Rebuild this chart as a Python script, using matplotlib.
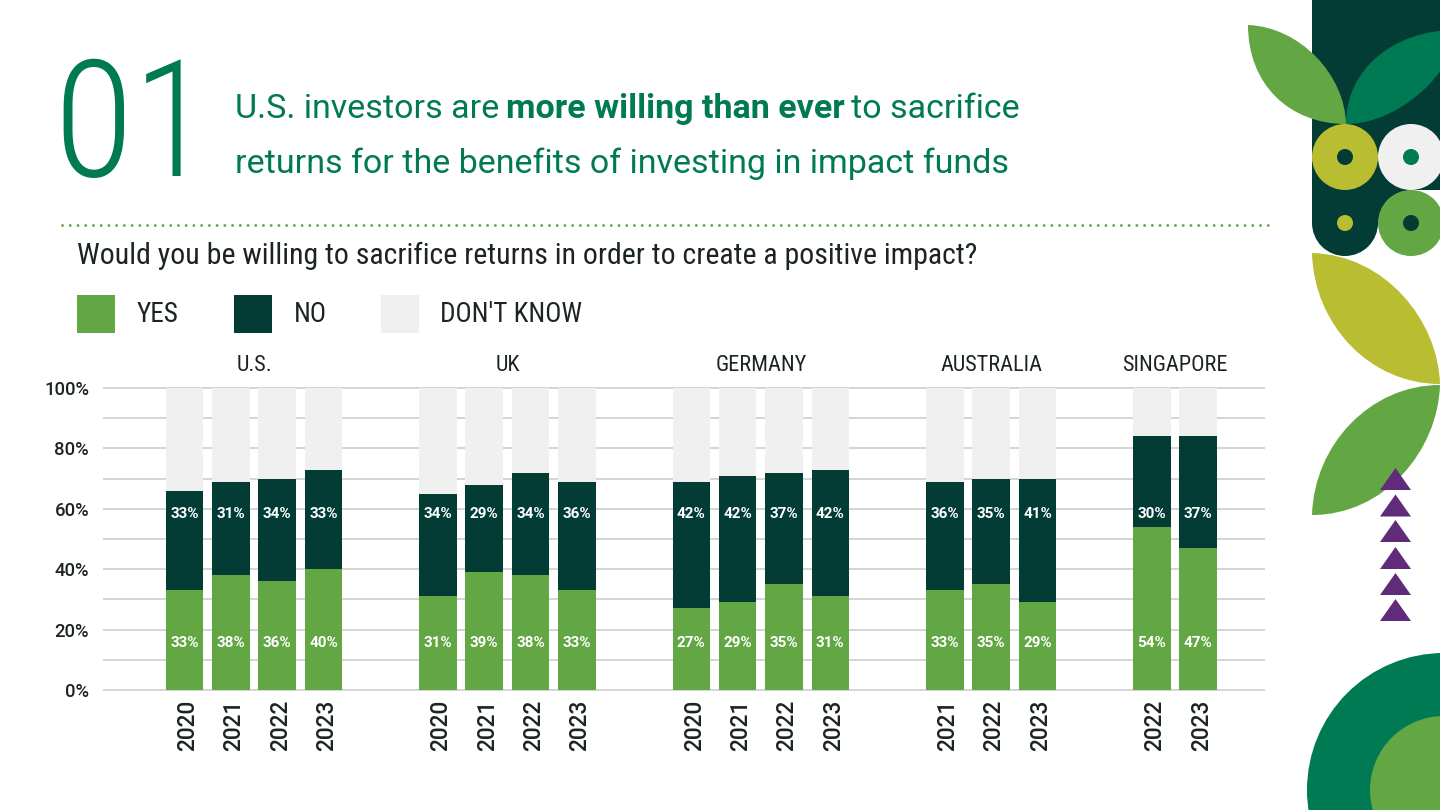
import numpy as np
import matplotlib
matplotlib.use('Agg')
import matplotlib.pyplot as plt
from matplotlib.patches import Circle, PathPatch, Polygon, Rectangle
from matplotlib.path import Path
from matplotlib.transforms import ScaledTranslation

green = '#62a744'
dark = '#033c35'
teal = '#007a53'
yellow = '#b9bd32'
light = '#f0f0f0'
purple = '#5f2b7a'
text_col = '#1c2422'

plt.rcParams['font.family'] = ['Roboto', 'DejaVu Sans']
narrow = 'Roboto Condensed'

groups = ['U.S.', 'UK', 'GERMANY', 'AUSTRALIA', 'SINGAPORE']
years = [[2020, 2021, 2022, 2023],
         [2020, 2021, 2022, 2023],
         [2020, 2021, 2022, 2023],
         [2021, 2022, 2023],
         [2022, 2023]]
yes = [33, 38, 36, 40, 31, 39, 38, 33, 27, 29, 35, 31, 33, 35, 29, 54, 47]
no = [33, 31, 34, 33, 34, 29, 34, 36, 42, 42, 37, 42, 36, 35, 41, 30, 37]
dont_know = [34, 31, 30, 27, 35, 32, 28, 31, 31, 29, 28, 27, 31, 30, 30, 16, 16]
y_ticks = [0, 20, 40, 60, 80, 100]

fig = plt.figure(figsize=(14.4, 8.1), dpi=100, facecolor='white')

# 整个画布一层，坐标就是像素，放标题和右边的装饰
bg = fig.add_axes([0, 0, 1, 1])
bg.set_xlim(0, 1440)
bg.set_ylim(810, 0)
bg.axis('off')


def leaf(a, b, c1, c2, c3, c4, color):
    verts = [a, c1, c2, b, c3, c4, a]
    codes = [Path.MOVETO] + [Path.CURVE4] * 6
    bg.add_patch(PathPatch(Path(verts, codes), fc=color, ec='none', zorder=3))


def ring(x, y, color, hole):
    bg.add_patch(Circle((x, y), 33, fc=color, ec='none', zorder=3))
    bg.add_patch(Circle((x, y), 8, fc=hole, ec='none', zorder=4))


# 深色竖条
bg.add_patch(Rectangle((1312, 0), 128, 190, fc=dark, ec='none', zorder=1))
bg.add_patch(Rectangle((1312, 190), 99, 33, fc=dark, ec='none', zorder=1))
bg.add_patch(Circle((1345, 223), 33, fc=dark, ec='none', zorder=1))
ring(1345, 157, yellow, dark)
ring(1411, 157, light, teal)
ring(1411, 223, green, dark)
bg.add_patch(Circle((1345, 223), 8, fc=yellow, ec='none', zorder=3))

leaf((1248, 25), (1346, 124), (1300, 27), (1345, 75), (1290, 124), (1248, 85), green)
leaf((1346, 124), (1456, 30), (1346, 68), (1395, 30), (1456, 70), (1400, 124), teal)
leaf((1312, 253), (1440, 384), (1385, 255), (1438, 320), (1370, 384), (1314, 325), yellow)
leaf((1312, 515), (1440, 385), (1314, 445), (1370, 385), (1438, 450), (1385, 515), green)

for tip in [468, 494.5, 520, 547, 573, 599]:
    bg.add_patch(Polygon([(1395.5, tip), (1380, tip + 22), (1411, tip + 22)],
                         fc=purple, ec='none', zorder=5))

bg.add_patch(Circle((1444, 790), 137, fc=teal, ec='none', zorder=3))
bg.add_patch(Circle((1444, 790), 74, fc=green, ec='none', zorder=4))

# 标题
bg.text(53, 176, '01', color=teal, fontsize=118, family=narrow, fontweight=300, va='baseline', ha='left')


def runs(x, y, parts):
    # 粗细混排，一段接一段量宽度
    r = fig.canvas.get_renderer()
    for s, w in parts:
        t = bg.text(x, y, s, color=teal, fontsize=24.45, fontweight=w, va='baseline', ha='left')
        x = x + t.get_window_extent(r).width - 2


runs(235, 118, [('U.S. investors are ', 'normal'), ('more willing than ever ', 'bold'), ('to sacrifice', 'normal')])
runs(235, 173, [('returns for the benefits of investing in impact funds', 'normal')])

bg.plot([62, 1270], [225, 225], color=green, lw=2.1, linestyle=(0, (0.01, 2.64)),
        dash_capstyle='round')

bg.text(77, 256, 'Would you be willing to sacrifice returns in order to create a positive impact?',
        color=text_col, fontsize=21.5, family=narrow, va='center', ha='left')

legend_x = [77, 234, 381]
legend_names = ['YES', 'NO', "DON'T KNOW"]
legend_cols = [green, dark, light]
for lx, name, col in zip(legend_x, legend_names, legend_cols):
    bg.add_patch(Rectangle((lx, 295), 38, 38, fc=col, ec='none'))
    bg.text(lx + 59.5, 314, name, color=text_col, fontsize=19.5, family=narrow,
            va='center', ha='left')

# 柱状图
ax = fig.add_axes([103 / 1440, 1 - 690 / 810, (1265 - 103) / 1440, (690 - 388) / 810])
ax.patch.set_alpha(0)
step = 46.33
gap = 1.47
x = []
centers = []
pos = 0.0
for yrs in years:
    start = pos
    for _ in yrs:
        x.append(pos)
        pos += 1
    centers.append((start + pos - 1) / 2)
    pos += gap
x = np.array(x)
yes_a = np.array(yes)
no_a = np.array(no)
dk_a = np.array(dont_know)

ax.set_xlim(-(184.5 - 103) / step, (1265 - 184.5) / step)
ax.set_ylim(0, 100)
ax.hlines(np.arange(0, 101, 10), *ax.get_xlim(), color='#c9c9c9', lw=1.1, clip_on=False, zorder=0)

ax.bar(x, yes_a, width=0.81, color=green, zorder=2)
ax.bar(x, no_a, width=0.81, bottom=yes_a, color=dark, zorder=2)
ax.bar(x, dk_a, width=0.81, bottom=yes_a + no_a, color=light, zorder=2)

for xi, a, b in zip(x, yes, no):
    ax.text(xi, 15.5, f'{a}%', color='white', fontsize=11, fontweight='bold', ha='center', va='center', zorder=3)
    ax.text(xi, 58.2, f'{b}%', color='white', fontsize=11, fontweight='bold', ha='center', va='center', zorder=3)

for c, g in zip(centers, groups):
    ax.text(c, 107.4, g, color=text_col, fontsize=16, family=narrow, ha='center', va='center')

ax.set_xticks(x)
ax.set_xticklabels([str(y) for yrs in years for y in yrs], rotation=90, fontsize=16.3,
                   fontweight=500, color=text_col)
ax.set_yticks(y_ticks)
ax.set_yticklabels([f'{v}%' for v in y_ticks], fontsize=13.3, fontweight=500, color=text_col)
ax.tick_params(length=0)
ax.tick_params(axis='x', pad=7)
ax.tick_params(axis='y', pad=10)
# 年份往右挪一点，和柱子对齐
nudge = ScaledTranslation(3 / 100, 0, fig.dpi_scale_trans)
for lab in ax.get_xticklabels():
    lab.set_transform(lab.get_transform() + nudge)
for s in ax.spines.values():
    s.set_visible(False)

fig.savefig('out.png', dpi=100)
